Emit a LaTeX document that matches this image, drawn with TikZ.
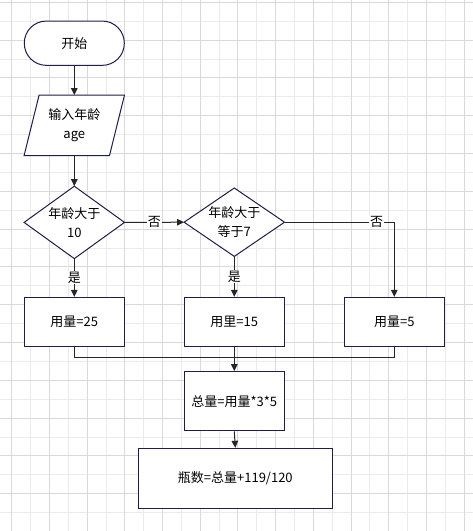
\documentclass[tikz,border=0pt]{standalone}
\usepackage{fontspec}
\setmainfont{Noto Sans CJK SC}
\usetikzlibrary{arrows.meta,calc}
\definecolor{edge}{HTML}{1E1E4B}
\definecolor{wire}{HTML}{262626}
\definecolor{gd}{HTML}{D9D9D9}
\definecolor{gl}{HTML}{EBEBEB}
\pgfdeclarelayer{gridlayer}
\pgfdeclarelayer{shapelayer}
\pgfsetlayers{gridlayer,shapelayer,main}
\begin{document}
\begin{tikzpicture}[x=1pt,y=-1pt,
  txt/.style={font=\fontsize{13pt}{19pt}\selectfont,text=black,align=center},
  box/.style={txt,rectangle,draw=edge,line width=1pt,fill=white,inner sep=0pt},
  term/.style={box,rounded corners=22pt,minimum width=100pt,minimum height=44.3pt},
  ghost/.style={txt,rectangle,inner sep=0pt},
  shapeline/.style={draw=edge,line width=1pt,fill=white},
  wire/.style={draw=wire,line width=1pt},
  arr/.style={wire,-{Triangle[width=6.5pt,length=7pt]}},
  lbl/.style={txt,fill=white,inner sep=1pt}]
\useasboundingbox (0,0) rectangle (473,531);
\begin{pgfonlayer}{gridlayer}
\fill[white] (0,0) rectangle (473,531);
\foreach \i in {0,...,12} \draw[gl,line width=0.9pt] ({11.7+18.85*(2*\i+1)},0) -- ++(0,531);
\foreach \i in {0,...,13} \draw[gl,line width=0.9pt] (0,{2.3+18.9*(2*\i+1)}) -- ++(473,0);
\foreach \i in {0,...,12} \draw[gd,line width=0.9pt] ({11.7+37.7*\i},0) -- ++(0,531);
\foreach \i in {0,...,14} \draw[gd,line width=0.9pt] (0,{2.3+37.8*\i}) -- ++(473,0);
\end{pgfonlayer}

\node[term] (start) at (74.3,43.2) {开始};
\node[ghost,minimum width=100pt,minimum height=60pt] (inp) at (74.3,125.3) {输入年龄\\age};
\node[ghost,minimum width=100pt,minimum height=72pt] (d1) at (74.3,222.4) {年龄大于\\10};
\node[ghost,minimum width=100pt,minimum height=68pt] (d2) at (234.3,222.2) {年龄大于\\等于7};
\node[box,minimum width=100pt,minimum height=48.7pt] (b1) at (74.3,321.7) {用量=25};
\node[box,minimum width=100pt,minimum height=48.7pt] (b2) at (234.3,321.7) {用里=15};
\node[box,minimum width=100pt,minimum height=48.7pt] (b3) at (394.3,321.7) {用量=5};
\node[box,minimum width=100pt,minimum height=59.3pt] (tot) at (234.3,401.3) {总量=用量*3*5};
\node[box,minimum width=194pt,minimum height=60pt] (bot) at (235.3,478.3) {瓶数=总量+119/120};

\begin{pgfonlayer}{shapelayer}
\draw[shapeline] ($(inp.north west)+(15,0)$) -- (inp.north east) -- ($(inp.south east)+(-15,0)$) -- (inp.south west) -- cycle;
\draw[shapeline] (d1.north) -- (d1.east) -- (d1.south) -- (d1.west) -- cycle;
\draw[shapeline] (d2.north) -- (d2.east) -- (d2.south) -- (d2.west) -- cycle;
\end{pgfonlayer}

\draw[arr] (start.south) -- (inp.north);
\draw[arr] (inp.south) -- (d1.north);
\draw[arr] (d1.east) -- node[lbl] (n1) {否} (d2.west);
\draw[arr] (d1.south) -- node[lbl] (y1) {是} (b1.north);
\draw[arr] (d2.south) -- node[lbl] (y2) {是} (b2.north);
\draw[arr] (d2.east) -| node[lbl,pos=0.42] (n2) {否} (b3.north);
\coordinate (m) at (234.3,357.7);
\draw[wire] (b1.south) |- (m) -| (b3.south);
\draw[arr] (b2.south) -- (tot.north);
\draw[arr] (tot.south) -- (bot.north);
\end{tikzpicture}
\end{document}
